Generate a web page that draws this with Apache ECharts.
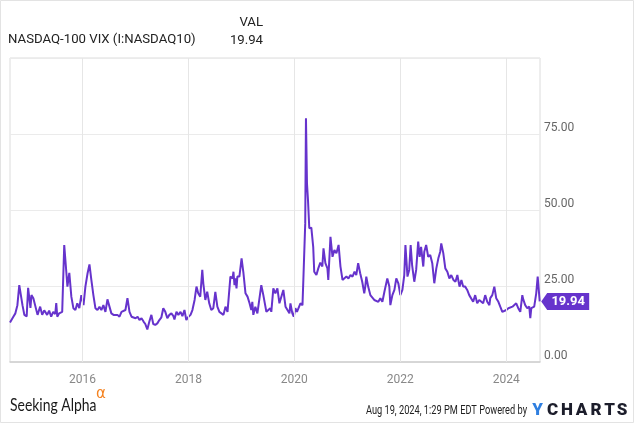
<!DOCTYPE html>
<html><head><meta charset="utf-8">
<script src="https://cdn.jsdelivr.net/npm/echarts@6/dist/echarts.min.js"></script>
<style>html,body{margin:0;padding:0;background:#fff}#c{width:635px;height:424px}</style>
</head><body><div id="c"></div>
<script>
const dates = ['2014-08-19','2014-09-11','2014-09-25','2014-10-09','2014-10-22','2014-11-13','2014-11-26','2014-12-12','2014-12-22',
'2015-01-07','2015-01-14','2015-01-27','2015-02-25','2015-03-15','2015-03-29','2015-04-12','2015-05-02','2015-05-16','2015-05-30','2015-06-13','2015-06-27','2015-07-04','2015-07-11','2015-07-24','2015-08-14','2015-08-28','2015-09-12','2015-09-19','2015-10-02','2015-10-16','2015-10-30','2015-11-13','2015-11-26','2015-12-10','2015-12-24',
'2016-01-08','2016-01-21','2016-02-05','2016-02-18','2016-03-02','2016-03-16','2016-03-30','2016-04-13','2016-04-27','2016-05-10','2016-05-24','2016-06-07','2016-06-21','2016-07-04','2016-07-18','2016-08-02','2016-08-15','2016-08-29','2016-09-12','2016-09-26','2016-10-09','2016-10-23','2016-11-06','2016-11-20','2016-12-04','2016-12-17',
'2017-01-01','2017-01-15','2017-01-28','2017-02-11','2017-02-25','2017-03-09','2017-03-23','2017-04-06','2017-04-20','2017-05-03','2017-05-17','2017-05-31','2017-06-14','2017-06-28','2017-07-11','2017-07-25','2017-08-08','2017-08-22','2017-09-05','2017-09-19','2017-09-26','2017-10-10','2017-10-23','2017-11-07','2017-11-20','2017-12-04','2017-12-17',
'2018-01-01','2018-01-15','2018-01-28','2018-02-12','2018-02-25','2018-03-09','2018-03-23','2018-04-06','2018-04-13','2018-04-27','2018-05-10','2018-05-24','2018-06-07','2018-06-21','2018-07-05','2018-07-19','2018-08-02','2018-08-16','2018-08-30','2018-09-13','2018-09-27','2018-10-10','2018-10-17','2018-11-01','2018-11-07','2018-11-14','2018-11-21','2018-11-28','2018-12-04','2018-12-18',
'2019-01-02','2019-01-15','2019-01-29','2019-02-12','2019-02-26','2019-03-10','2019-03-17','2019-03-24','2019-04-07','2019-04-21','2019-05-04','2019-05-18','2019-06-01','2019-06-08','2019-06-22','2019-07-05','2019-07-19','2019-07-26','2019-08-09','2019-08-23','2019-09-06','2019-09-20','2019-10-03','2019-10-17','2019-11-01','2019-11-14','2019-11-28','2019-12-05','2019-12-18','2019-12-28',
'2020-01-08','2020-01-19','2020-01-29','2020-02-12','2020-02-26','2020-03-03','2020-03-16','2020-03-21','2020-03-28','2020-04-04','2020-04-13','2020-04-22','2020-04-27','2020-05-10','2020-05-17','2020-06-01','2020-06-14','2020-06-28','2020-07-12','2020-07-20','2020-08-02','2020-08-16','2020-08-22','2020-09-06','2020-09-20','2020-10-03','2020-10-17','2020-11-01','2020-11-14','2020-11-28','2020-12-11','2020-12-25',
'2021-01-08','2021-01-22','2021-02-05','2021-02-19','2021-03-03','2021-03-16','2021-03-30','2021-04-13','2021-04-27','2021-05-04','2021-05-11','2021-05-24','2021-06-08','2021-06-21','2021-07-05','2021-07-18','2021-08-02','2021-08-16','2021-08-30','2021-09-13','2021-10-03','2021-10-17','2021-10-24','2021-11-07','2021-11-21','2021-12-04','2021-12-18',
'2022-01-01','2022-01-15','2022-01-28','2022-02-05','2022-02-19','2022-03-03','2022-03-13','2022-03-23','2022-04-07','2022-04-20','2022-05-04','2022-05-14','2022-05-24','2022-06-08','2022-06-15','2022-06-28','2022-07-12','2022-07-26','2022-08-09','2022-08-23','2022-09-06','2022-09-20','2022-10-03','2022-10-10','2022-10-24','2022-11-07','2022-11-21','2022-12-05','2022-12-18',
'2023-01-02','2023-01-16','2023-01-29','2023-02-13','2023-02-26','2023-03-10','2023-03-24','2023-04-07','2023-04-21','2023-05-04','2023-05-18','2023-06-01','2023-06-15','2023-06-29','2023-07-12','2023-07-26','2023-08-09','2023-08-23','2023-09-07','2023-09-13','2023-09-27','2023-10-11','2023-10-24','2023-11-08','2023-11-21','2023-12-05','2023-12-18',
'2024-01-02','2024-01-16','2024-01-29','2024-02-13','2024-02-26','2024-03-10','2024-03-24','2024-04-07','2024-04-21','2024-04-28','2024-05-11','2024-05-25','2024-06-08','2024-06-15','2024-06-22','2024-07-05','2024-07-12','2024-07-26','2024-08-05','2024-08-19'];
const vix = [13.0,14.9,16.0,18.7,25.3,18.7,15.5,15.0,24.4,
17.8,22.0,21.0,15.5,18.2,15.5,17.0,15.5,16.9,14.9,16.5,15.8,19.4,14.9,16.0,16.5,38.5,29.2,24.8,29.3,21.5,17.7,17.1,19.3,17.7,22.0,
18.7,24.8,29.2,32.1,27.0,22.0,17.7,17.1,18.2,17.1,18.7,16.5,20.6,20.2,16.0,15.5,14.9,15.5,14.9,16.5,16.0,17.1,21.0,16.5,14.9,15.5,
14.4,14.9,13.8,14.4,13.3,12.5,10.7,13.3,15.5,12.5,12.2,12.7,13.8,14.7,17.7,16.5,14.4,15.5,16.0,15.1,14.0,16.5,15.5,16.5,15.1,17.1,13.8,
14.9,15.5,17.1,20.4,24.8,22.6,21.5,30.3,25.9,20.4,23.1,19.3,17.1,17.7,23.1,18.2,16.5,16.0,15.5,18.2,16.5,16.5,28.1,27.5,29.7,25.3,27.5,24.2,28.1,28.1,
34.1,29.2,22.6,21.5,19.3,17.1,19.8,15.5,18.2,16.0,16.5,25.3,22.0,21.5,16.5,16.6,17.7,16.5,24.2,22.6,24.2,19.3,18.7,23.7,18.2,17.7,16.0,19.3,16.0,14.9,
17.7,16.5,17.1,19.3,18.7,27.0,45.6,80.2,58.8,53.3,44.0,43.4,44.2,37.9,29.7,28.6,30.8,32.7,31.4,37.4,32.5,30.8,27.0,41.2,34.6,36.8,35.8,38.5,31.4,27.0,26.4,28.1,
27.5,28.6,28.1,29.7,28.6,32.5,29.2,26.4,22.6,24.8,28.1,24.8,22.0,21.5,20.4,21.0,19.8,21.0,19.8,23.1,27.5,24.8,18.7,22.0,23.7,27.5,25.9,
22.0,23.7,28.6,38.5,28.1,30.3,38.5,31.9,26.4,30.3,39.6,34.6,37.9,31.4,36.3,38.5,34.6,35.2,32.5,25.9,30.8,34.1,36.3,39.0,35.8,30.8,29.7,27.5,28.6,
27.0,26.4,28.6,24.8,27.0,24.8,24.8,23.7,22.0,22.6,19.8,22.0,19.3,20.4,19.8,19.3,22.0,19.8,18.7,21.0,22.0,24.8,21.0,19.8,18.2,16.5,16.0,
17.1,17.7,17.1,18.2,17.7,19.3,17.7,16.5,22.0,20.5,18.7,17.7,18.2,14.4,17.7,17.1,18.2,22.6,28.1,19.94];
const yearTicks = ['2016-01-01','2018-01-01','2020-01-01','2022-01-01','2024-01-01'];
const yTicks = [0, 25, 50, 75, 100];
const seriesName = 'NASDAQ-100 VIX (I:NASDAQ10)';
const lastLabel = '19.94';

const purple = '#6633cc';
const lineData = dates.map((d, i) => [d, vix[i]]);
const chart = echarts.init(document.getElementById('c'), null, {renderer: 'canvas'});
const logoLetters = ['Y','C','H','A','R','T','S'];
const logoX = [537.5, 552.5, 567, 581.5, 596, 609.5, 622];
chart.setOption({
  animation: false,
  backgroundColor: '#fff',
  textStyle: {fontFamily: 'Roboto'},
  grid: {left: 10, right: 95, top: 58, bottom: 62, show: true, borderColor: '#dcdcdc', borderWidth: 1, containLabel: false},
  xAxis: {
    type: 'time', min: '2014-08-19', max: '2024-08-21',
    axisLine: {show: true, lineStyle: {color: '#cfcfcf', width: 1.5}},
    axisTick: {show: false},
    splitLine: {show: false},
    axisLabel: {show: false}
  },
  yAxis: {
    type: 'value', position: 'right', min: yTicks[0], max: yTicks[yTicks.length - 1], interval: 25,
    axisLine: {show: false}, axisTick: {show: false},
    splitLine: {lineStyle: {color: '#ebebeb', width: 1}},
    axisLabel: {formatter: v => v === 100 ? '' : v.toFixed(2), color: '#666', fontSize: 12, margin: 4, verticalAlign: 'bottom', fontFamily: 'Roboto'}
  },
  series: [
    {
      type: 'line', data: lineData, showSymbol: false, silent: true, z: 1,
      lineStyle: {opacity: 0},
      markLine: {silent: true, symbol: 'none',
        label: {show: true, position: 'start', distance: 12, color: '#888', fontSize: 12, fontFamily: 'Roboto',
          formatter: p => String(p.value).slice(0, 4)},
        lineStyle: {color: '#e6e6e6', width: 1, type: 'solid'},
        data: yearTicks.map(d => ({xAxis: d}))}
    },
    {
      name: seriesName, type: 'line', data: lineData, showSymbol: false, z: 3,
      lineStyle: {color: purple, width: 2}, itemStyle: {color: purple},
      markPoint: {
        symbol: 'path://M0,8.5L6,0L48,0L48,17L6,17Z', symbolSize: [48, 17], symbolKeepAspect: false,
        symbolOffset: [25.5, 0], itemStyle: {color: purple},
        label: {show: true, position: 'inside', offset: [3, 0], color: '#fff', fontWeight: 'bold', fontSize: 13, fontFamily: 'Roboto', formatter: lastLabel},
        data: [{coord: [dates[dates.length - 1], vix[vix.length - 1]]}]
      }
    }
  ],
  graphic: [
    {type: 'rect', shape: {x: 0.5, y: 0.5, width: 633, height: 422}, style: {fill: 'none', stroke: '#e3e3e3', lineWidth: 1}, silent: true},
    {type: 'text', x: 263, y: 23, style: {text: 'VAL', fill: '#222', font: '13.2px Roboto', textAlign: 'right', textVerticalAlign: 'middle'}},
    {type: 'text', x: 8, y: 40, style: {text: seriesName, fill: '#222', font: '13.2px Roboto', textAlign: 'left', textVerticalAlign: 'middle'}},
    {type: 'text', x: 263, y: 41, style: {text: lastLabel, fill: '#222', font: '13.2px Roboto', textAlign: 'right', textVerticalAlign: 'middle'}},
    {type: 'text', x: 10, y: 406, scaleX: 0.82, style: {text: 'Seeking Alpha', fill: '#1a1a1a', font: '17px Lato', textAlign: 'left', textVerticalAlign: 'middle'}},
    {type: 'text', x: 96, y: 394, style: {text: 'α', fill: '#f5821f', font: '15px "DejaVu Sans"', textAlign: 'left', textVerticalAlign: 'middle'}},
    {type: 'text', x: 527, y: 411, scaleX: 0.77, style: {text: 'Aug 19, 2024, 1:29 PM EDT Powered by', fill: '#222', font: '12px Roboto', textAlign: 'right', textVerticalAlign: 'middle'}}
  ].concat(logoLetters.map((ch, i) => ({type: 'text', x: logoX[i], y: 410.5,
    style: {text: ch, fill: i === 0 ? '#2f7fe0' : '#1c1d2b', font: '900 17px Roboto', textAlign: 'center', textVerticalAlign: 'middle'}})))
});
</script></body></html>
